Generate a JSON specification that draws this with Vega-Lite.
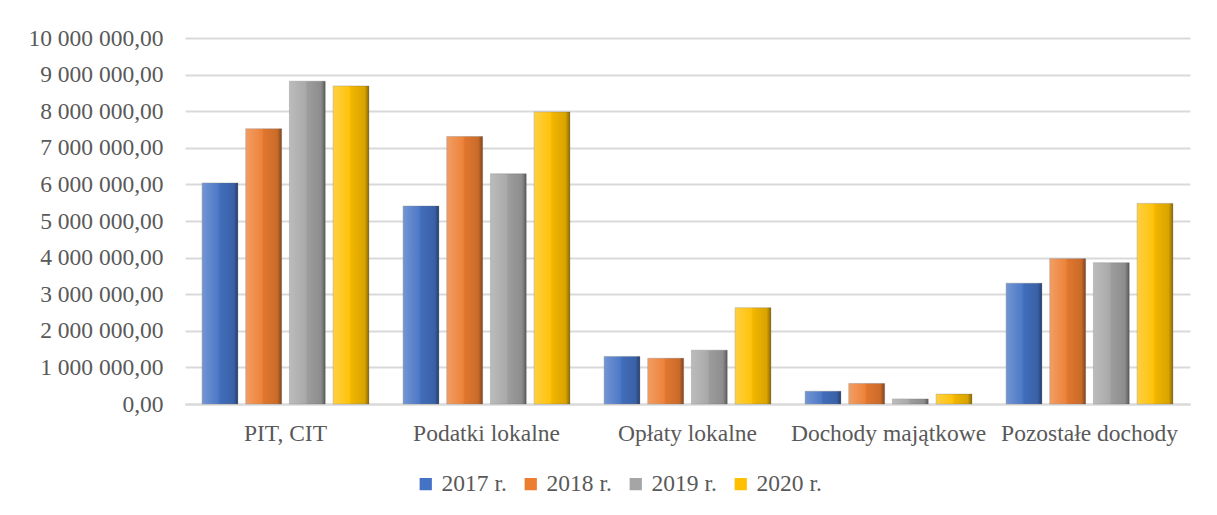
{
  "$schema": "https://vega.github.io/schema/vega-lite/v6.json",
  "width": 1005,
  "height": 366,
  "autosize": {"type": "none"},
  "padding": {"left": 185, "top": 38, "right": 27, "bottom": 111},
  "background": "white",
  "config": {
    "locale": {"number": {"decimal": ",", "thousands": " ", "grouping": [3], "currency": ["", ""]}},
    "font": "Liberation Serif",
    "view": {"stroke": null}
  },
  "data": {
    "values": [
      {"kat": "PIT, CIT", "rok": "2017 r.", "v": 6040000},
      {"kat": "PIT, CIT", "rok": "2018 r.", "v": 7520000},
      {"kat": "PIT, CIT", "rok": "2019 r.", "v": 8820000},
      {"kat": "PIT, CIT", "rok": "2020 r.", "v": 8690000},
      {"kat": "Podatki lokalne", "rok": "2017 r.", "v": 5410000},
      {"kat": "Podatki lokalne", "rok": "2018 r.", "v": 7310000},
      {"kat": "Podatki lokalne", "rok": "2019 r.", "v": 6290000},
      {"kat": "Podatki lokalne", "rok": "2020 r.", "v": 7980000},
      {"kat": "Opłaty lokalne", "rok": "2017 r.", "v": 1300000},
      {"kat": "Opłaty lokalne", "rok": "2018 r.", "v": 1250000},
      {"kat": "Opłaty lokalne", "rok": "2019 r.", "v": 1470000},
      {"kat": "Opłaty lokalne", "rok": "2020 r.", "v": 2630000},
      {"kat": "Dochody majątkowe", "rok": "2017 r.", "v": 350000},
      {"kat": "Dochody majątkowe", "rok": "2018 r.", "v": 560000},
      {"kat": "Dochody majątkowe", "rok": "2019 r.", "v": 140000},
      {"kat": "Dochody majątkowe", "rok": "2020 r.", "v": 270000},
      {"kat": "Pozostałe dochody", "rok": "2017 r.", "v": 3300000},
      {"kat": "Pozostałe dochody", "rok": "2018 r.", "v": 3970000},
      {"kat": "Pozostałe dochody", "rok": "2019 r.", "v": 3860000},
      {"kat": "Pozostałe dochody", "rok": "2020 r.", "v": 5480000}
    ]
  },
  "encoding": {
    "x": {
      "field": "kat", "type": "nominal", "sort": null, "title": null,
      "scale": {"paddingInner": 0.17, "paddingOuter": 0.085},
      "axis": {"labelAngle": 0, "labelFontSize": 23.5, "labelColor": "#595959", "labelPadding": 17,
               "labelLimit": 0, "labelOverlap": false,
               "ticks": false, "domainColor": "#d9d9d9", "domainWidth": 2, "grid": false}
    },
    "xOffset": {"field": "rok", "type": "nominal", "scale": {"paddingInner": 0.18}},
    "y": {
      "field": "v", "type": "quantitative", "title": null,
      "scale": {"domain": [0, 10000000], "nice": false},
      "axis": {"format": ",.2f", "values": [0,1000000,2000000,3000000,4000000,5000000,6000000,7000000,8000000,9000000,10000000],
               "labelFontSize": 23.5, "labelColor": "#595959", "labelPadding": 22, "labelOverlap": false, "labelLimit": 0,
               "ticks": false, "domain": false, "gridColor": "#d9d9d9", "gridWidth": 2}
    }
  },
  "layer": [
    {
      "mark": {"type": "bar", "stroke": "#7f7f7f", "strokeWidth": 0.6, "strokeOpacity": 0.6},
      "encoding": {
        "color": {
          "field": "rok", "type": "nominal", "title": null,
          "scale": {"domain": ["2017 r.", "2018 r.", "2019 r.", "2020 r."], "range": ["#4472C4", "#ED7D31", "#A5A5A5", "#FFC000"]},
          "legend": {"orient": "none", "legendX": 229, "legendY": 434, "direction": "horizontal", "symbolType": "square", "symbolSize": 150,
                     "symbolStrokeWidth": 0, "labelFontSize": 23.5, "labelColor": "#595959", "labelOffset": 4,
                     "columnPadding": 12}
        }
      }
    },
    {
      "mark": {
        "type": "bar",
        "color": {
          "gradient": "linear", "x1": 0, "y1": 0, "x2": 1, "y2": 0,
          "stops": [
            {"offset": 0, "color": "rgba(255,255,255,0.25)"},
            {"offset": 0.45, "color": "rgba(255,255,255,0.05)"},
            {"offset": 0.5, "color": "rgba(0,0,0,0.05)"},
            {"offset": 0.88, "color": "rgba(0,0,0,0.15)"},
            {"offset": 1, "color": "rgba(0,0,0,0.45)"}
          ]
        }
      },
      "encoding": {}
    }
  ]
}
